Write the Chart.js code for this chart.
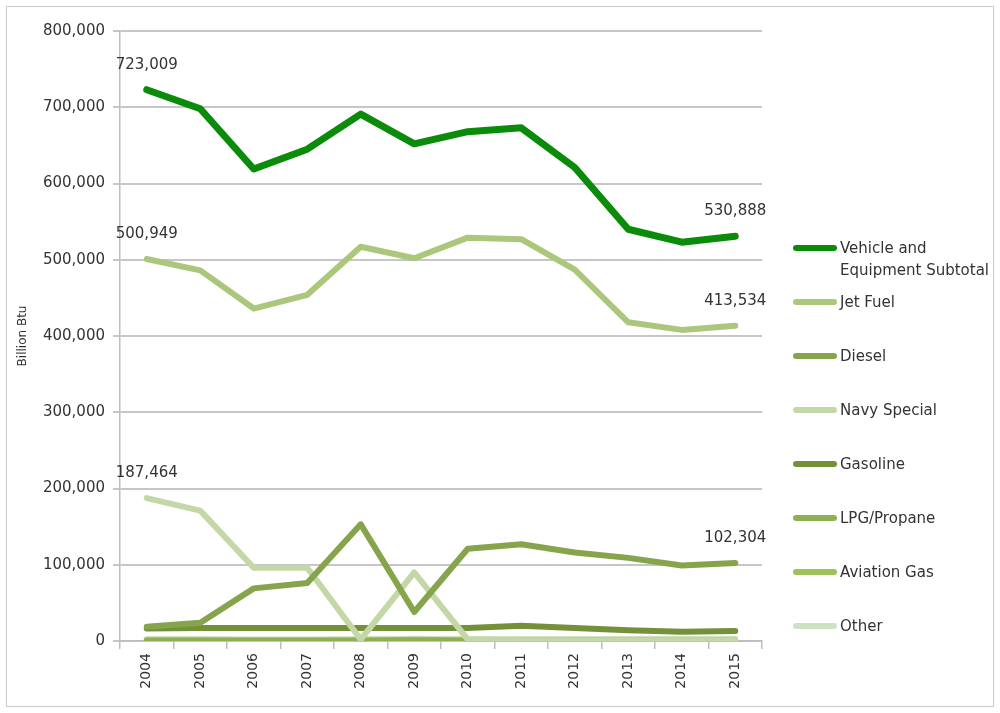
<!DOCTYPE html>
<html>
<head>
<meta charset="utf-8">
<script src="https://cdn.jsdelivr.net/npm/chart.js@4"></script>
<style>
  body { margin: 0; background: #fff; font-family: "DejaVu Sans", sans-serif; }
  #wrap { position: relative; width: 1000px; height: 713px; }
  #frame { position: absolute; left: 6px; top: 6px; width: 988px; height: 701px; border: 1px solid #c9c9c9; box-sizing: border-box; }
  #legend { position: absolute; left: 793px; top: 0; }
  .item { position: absolute; left: 0; width: 210px; }
  .swatch { position: absolute; left: 0; width: 44px; height: 6px; border-radius: 3px; }
  .txt { position: absolute; left: 47px; font-size: 15px; line-height: 22px; color: #333; white-space: nowrap; }
</style>
</head>
<body>
<div id="wrap">
  <canvas id="fuelChart" width="1000" height="713"></canvas>
  <div id="frame"></div>
  <div id="legend"></div>
</div>
<script>
const years = ['2004', '2005', '2006', '2007', '2008', '2009', '2010', '2011', '2012', '2013', '2014', '2015'];
const vehicle = [723009, 698000, 619000, 645000, 691000, 652000, 668000, 673000, 621000, 540000, 523000, 530888];
const jetFuel = [500949, 486000, 436000, 454000, 517000, 502000, 529000, 527000, 487000, 418000, 408000, 413534];
const diesel = [18700, 24000, 69000, 76000, 153000, 38000, 121000, 127000, 116000, 109000, 99000, 102304];
const navySpecial = [187464, 171000, 96000, 96000, 2000, 90000, 2000, 1000, 1000, 1000, 1000, 1000];
const gasoline = [16500, 17000, 17000, 17000, 17000, 17000, 17000, 20000, 17000, 14000, 12000, 13000];
const lpg = [500, 500, 500, 500, 500, 500, 500, 500, 500, 500, 500, 500];
const aviationGas = [300, 300, 300, 300, 300, 1500, 300, 300, 300, 300, 300, 300];
const other = [2500, 2500, 2000, 2000, 2500, 3000, 2500, 2500, 2500, 2500, 3000, 3000];

const seriesNames = ['Vehicle and\nEquipment Subtotal', 'Jet Fuel', 'Diesel', 'Navy Special', 'Gasoline', 'LPG/Propane', 'Aviation Gas', 'Other'];
const seriesData = [vehicle, jetFuel, diesel, navySpecial, gasoline, lpg, aviationGas, other];
const seriesColors = ['#0a8c0a', '#aac77c', '#85a44c', '#c3d8a6', '#74913a', '#8fb052', '#9cc25c', '#d0e1c2'];

// which points get a value label: [dataset index, point index]
const labelled = [[0, 0], [0, 11], [1, 0], [1, 11], [3, 0], [2, 11]];

const fmt = v => v.toLocaleString('en-US');

const pointLabels = {
  id: 'pointLabels',
  afterDatasetsDraw(chart) {
    const c = chart.ctx;
    c.save();
    c.font = '15px "DejaVu Sans"';
    c.fillStyle = '#333';
    c.textAlign = 'center';
    c.textBaseline = 'middle';
    labelled.forEach(([d, i]) => {
      const pt = chart.getDatasetMeta(d).data[i];
      c.fillText(fmt(seriesData[d][i]), pt.x, pt.y - 25);
    });
    c.restore();
  }
};

const ctx = document.getElementById('fuelChart').getContext('2d');
const chart = new Chart(ctx, {
  type: 'line',
  data: {
    labels: years,
    datasets: seriesNames.map((n, k) => ({
      label: n,
      data: seriesData[k],
      borderColor: seriesColors[k],
      backgroundColor: seriesColors[k],
      borderWidth: k === 0 ? 7 : 6,
      pointRadius: 0,
      tension: 0,
      borderCapStyle: 'round',
      borderJoinStyle: 'round'
    }))
  },
  options: {
    responsive: false,
    animation: false,
    layout: { padding: { left: 16, top: 31, right: 238, bottom: 0 } },
    plugins: { legend: { display: false }, tooltip: { enabled: false } },
    scales: {
      x: {
        offset: true,
        grid: { display: true, offset: true, drawOnChartArea: false, drawTicks: true, tickLength: 8, color: '#bdbdbd', lineWidth: 1.5 },
        border: { color: '#bdbdbd', width: 1.5 },
        ticks: { minRotation: 90, maxRotation: 90, color: '#333', font: { family: 'DejaVu Sans', size: 14 }, padding: 4 },
        afterFit(s) { s.height = 72; }
      },
      y: {
        min: 0, max: 800000,
        ticks: { stepSize: 100000, color: '#333', font: { family: 'DejaVu Sans', size: 15 }, padding: 8, callback: v => fmt(v) },
        grid: { color: '#c6c6c6', lineWidth: 2, tickLength: 7 },
        border: { color: '#bdbdbd', width: 1.5 },
        title: { display: true, text: 'Billion Btu', color: '#333', font: { family: 'DejaVu Sans', size: 12 }, padding: 0 },
        afterFit(s) { s.width = 104; }
      }
    }
  },
  plugins: [pointLabels]
});

// legend on the right, built from the same series lists
const legend = document.getElementById('legend');
seriesNames.forEach((n, k) => {
  const y = 248 + k * 54;
  const item = document.createElement('div');
  item.className = 'item';
  item.style.top = (y - 3) + 'px';
  const sw = document.createElement('div');
  sw.className = 'swatch';
  sw.style.background = seriesColors[k];
  const t = document.createElement('div');
  t.className = 'txt';
  t.style.top = '-8px';
  t.innerHTML = n.replace('\n', '<br>');
  item.appendChild(sw);
  item.appendChild(t);
  legend.appendChild(item);
});
</script>
</body>
</html>
